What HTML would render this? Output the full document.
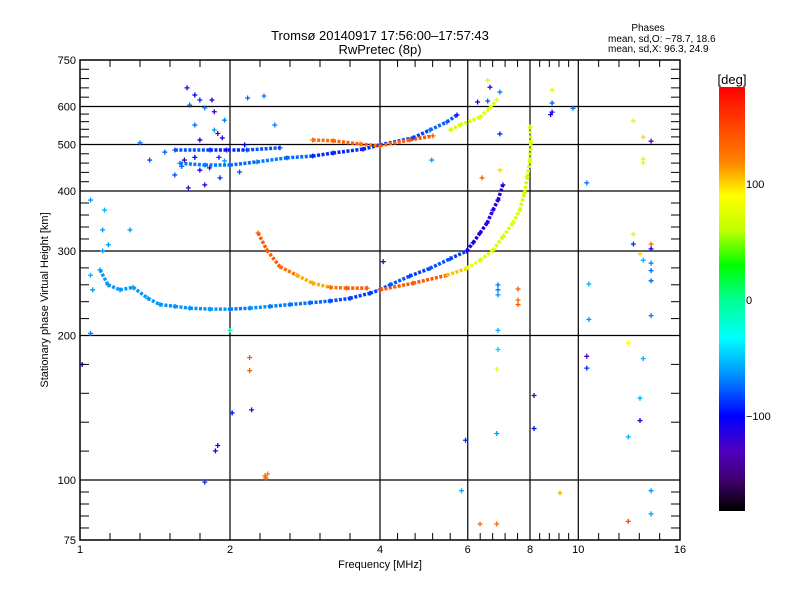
<!DOCTYPE html>
<html><head><meta charset="utf-8"><style>
body{margin:0;background:#fff;}
svg{display:block;font-family:"Liberation Sans",sans-serif;}
</style></head><body>
<svg id="c" width="800" height="600" viewBox="0 0 800 600">
<text x="380" y="40" font-size="13" text-anchor="middle">Tromsø 20140917 17:56:00–17:57:43</text>
<text x="380" y="54" font-size="13" text-anchor="middle">RwPretec (8p)</text>
<text x="648" y="31" font-size="10" text-anchor="middle">Phases</text>
<text x="608" y="42" font-size="10">mean, sd,O: −78.7, 18.6</text>
<text x="608" y="52" font-size="10">mean, sd,X:  96.3, 24.9</text>
<text x="380" y="568" font-size="11" text-anchor="middle">Frequency [MHz]</text>
<text transform="translate(48,300) rotate(-90)" font-size="11" text-anchor="middle">Stationary phase Virtual Height [km]</text>
<g id="grid"></g><g id="marks"></g><g id="axes"></g><g id="cbar"></g>
</svg>
<script>
// ---- data arrays: [frequency MHz, virtual height km, phase deg] ----
const oTraceLow=[[1.097,274,-62],[1.138,255,-62],[1.203,249,-62],[1.278,252,-62],[1.369,239,-62],[1.447,232,-65],[1.551,230,-62],[1.662,228,-65],[1.823,227,-62],[2.0,227,-70],[2.193,228,-65],[2.405,230,-70],[2.639,232,-72],[2.895,234,-75],[3.175,236,-82],[3.482,239,-85],[3.82,245,-85],[4.0,249,-85]];
const xBranchBlue=[[4.0,249,-85],[4.19,255,-80],[4.59,266,-85],[5.04,276,-80],[5.53,289,-85],[5.97,300,-110],[6.15,312,-110],[6.35,327,-110],[6.56,343,-115],[6.74,365,-110],[6.90,383,-115],[7.06,412,-115]];
const branchGreen=[[4.0,249,140],[4.66,257,140],[5.45,267,105],[5.97,276,80],[6.35,287,75],[6.74,301,70],[7.06,321,70],[7.39,343,75],[7.63,365,70],[7.80,396,70],[7.90,428,65],[8.0,464,70],[8.03,504,75],[8.0,544,70]];
const orangeArc=[[2.277,327,140],[2.373,301,140],[2.52,278,130],[2.726,267,110],[2.93,257,110],[3.175,252,130],[3.43,251,140],[3.77,251,140]];
const upperBlue=[[1.587,457,-70],[1.782,453,-70],[2.0,453,-75],[2.266,460,-70],[2.60,469,-75],[2.93,473,-90],[3.22,480,-90],[3.70,489,-90],[4.0,499,-85],[4.66,516,-85],[5.04,536,-75],[5.45,557,-78],[5.71,576,-100]];
const upperRow=[[1.55,487,-80],[1.823,487,-90],[2.16,487,-80],[2.52,492,-85]];
const upperOrange=[[2.93,511,130],[3.22,509,135],[3.65,501,130],[4.0,497,135],[4.59,511,140],[5.11,521,135]];
const upperGreen=[[5.53,536,70],[5.79,549,70],[6.35,570,75],[6.65,596,75],[6.86,620,80]];
const scatter=[[1.64,656,-110],[1.70,634,-100],[1.74,619,-90],[1.66,604,-80],[1.78,596,-70],[1.84,619,-100],[1.86,585,-120],[1.70,549,-75],[1.86,536,-62],[1.95,562,-70],[1.93,516,-120],[1.89,527,-130],[1.74,511,-100],[1.97,487,-110],[1.91,426,-90],[1.78,412,-110],[1.65,406,-120],[2.09,438,-80],[2.17,625,-75],[2.34,631,-70],[2.14,499,-100],[2.46,549,-70],[1.62,464,-140],[1.74,442,-110],[1.82,447,-120],[1.55,432,-80],[1.38,464,-80],[1.32,504,-70],[1.48,482,-80],[1.70,470,-100],[1.90,470,-90],[1.60,450,-75],[1.95,462,-62],
[1.05,383,-62],[1.12,365,-55],[1.11,332,-62],[1.14,309,-62],[1.11,300,-62],[1.26,332,-62],[1.05,267,-55],[1.06,249,-62],[1.01,174,-100],[1.05,202,-70],
[2.0,205,0],[2.19,180,140],[2.19,169,140],[2.21,140,-120],[2.02,138,-100],[1.89,118,-110],[1.87,115,-110],[1.78,99,-90],[2.35,102,130],[2.36,101,140],[2.38,103,120],[4.06,285,-130],
[6.58,681,75],[6.65,658,-120],[6.58,616,-80],[6.28,613,-110],[6.96,643,-70],[6.96,526,-90],[5.08,464,-62],[6.41,426,140],[6.96,442,100],
[6.90,255,-70],[6.90,249,-70],[6.90,243,-62],[6.90,205,-55],[6.90,187,-45],[7.57,250,140],[7.57,237,130],[7.57,232,140],[6.86,170,80],[6.86,125,-62],[6.86,81,130],
[8.86,649,70],[8.86,610,-80],[8.86,584,-100],[8.80,577,-110],[9.76,595,-75],[10.4,416,-70],
[12.9,560,70],[13.5,518,100],[14.0,508,-130],[13.5,466,70],[13.5,458,70],[12.9,325,70],[12.9,310,-90],[14.0,310,130],[14.0,303,-100],[13.3,296,100],[13.5,287,-55],[14.0,283,-70],[14.0,273,-75],[14.0,260,-75],[14.0,220,-70],[10.5,256,-55],[10.5,216,-62],
[12.6,193,90],[13.5,179,-55],[13.3,148,-55],[13.3,133,-110],[14.0,95,-62],[14.0,85,-62],[12.6,123,-55],[12.6,82,150],[10.4,181,-130],[10.4,171,-90],[9.19,94,110],[8.15,150,-120],[8.15,128,-100],[5.94,121,-90],[5.83,95,-55],[6.35,81,130]];
const traces=[oTraceLow,xBranchBlue,branchGreen,orangeArc,upperBlue,upperRow,upperOrange,upperGreen];
const xTickLabels=[1,2,4,6,8,10,16];
const yTickLabels=[75,100,200,300,400,500,600,750];
const cbarLabels=[100,0,-100];

// ---- scales ----
const X0=80,X1=680,Y0=60,Y1=540;
const xs=f=>X0+150*Math.log2(f);
const ys=h=>480-144.5*Math.log2(h/100);
const NS="http://www.w3.org/2000/svg";
const stops=[[-181,0,0,0],[-155,64,0,112],[-130,80,0,192],[-100,0,0,255],[-65,0,144,255],[-33,0,255,255],[0,0,255,144],[30,0,255,0],[60,192,255,0],[90,255,255,0],[120,255,128,0],[184,255,0,0]];
function col(v){
  if(v<=stops[0][0])return"rgb(0,0,0)";
  for(let i=1;i<stops.length;i++){if(v<=stops[i][0]){const a=stops[i-1],b=stops[i],t=(v-a[0])/(b[0]-a[0]);
    return`rgb(${Math.round(a[1]+t*(b[1]-a[1]))},${Math.round(a[2]+t*(b[2]-a[2]))},${Math.round(a[3]+t*(b[3]-a[3]))})`;}}
  return"rgb(255,0,0)";
}
function mk(tag,attrs,parent){const e=document.createElementNS(NS,tag);for(const k in attrs)e.setAttribute(k,attrs[k]);parent.appendChild(e);return e;}
const grid=document.getElementById('grid'),marks=document.getElementById('marks'),axes=document.getElementById('axes'),cb=document.getElementById('cbar');

// grid lines
xTickLabels.slice(1,-1).forEach(f=>{const l=mk('line',{x1:xs(f),x2:xs(f),y1:Y0,y2:Y1,stroke:'#000','stroke-width':1.2},grid);

});
yTickLabels.slice(1,-1).forEach(h=>{const l=mk('line',{x1:X0,x2:X1,y1:ys(h),y2:ys(h),stroke:'#000','stroke-width':1.2},grid);

});

// trace segments
const clip=mk('clipPath',{id:'pc'},document.getElementById('c'));mk('rect',{x:X0,y:Y0,width:X1-X0,height:Y1-Y0},clip);
marks.setAttribute('clip-path','url(#pc)');
traces.forEach(tr=>{for(let i=1;i<tr.length;i++){const a=tr[i-1],b=tr[i];
  const s=mk('line',{x1:xs(a[0]),y1:ys(a[1]),x2:xs(b[0]),y2:ys(b[1]),stroke:col(a[2]),'stroke-width':3.5,'stroke-dasharray':'3 1.5'},marks);
  
  }});
function plus(p){const x=xs(p[0]),y=ys(p[1]);
  const g=mk('path',{d:`M${x-2.5},${y}h5M${x},${y-2.5}v5`,stroke:col(p[2]),'stroke-width':1.3},marks);
  
  }
traces.forEach(tr=>tr.forEach(plus));
scatter.forEach(plus);

// axes box
const box=mk('rect',{x:X0,y:Y0,width:X1-X0,height:Y1-Y0,fill:'none',stroke:'#000','stroke-width':1.5},axes);


// minor ticks: 5 subdivisions between labelled values
for(let i=0;i<xTickLabels.length-1;i++){const a=xs(xTickLabels[i]),b=xs(xTickLabels[i+1]);
  for(let k=1;k<5;k++){const x=a+(b-a)*k/5;
    const t1=mk('line',{x1:x,x2:x,y1:Y0,y2:Y0+7,stroke:'#000'},axes);
    
    
    const t2=mk('line',{x1:x,x2:x,y1:Y1,y2:Y1-7,stroke:'#000'},axes);
    
    }}
for(let i=0;i<yTickLabels.length-1;i++){const a=ys(yTickLabels[i]),b=ys(yTickLabels[i+1]);
  for(let k=1;k<5;k++){const y=a+(b-a)*k/5;
    const t1=mk('line',{x1:X0,x2:X0+9,y1:y,y2:y,stroke:'#000'},axes);
    
    
    const t2=mk('line',{x1:X1,x2:X1-9,y1:y,y2:y,stroke:'#000'},axes);
    
    }}
xTickLabels.forEach(f=>{const t=mk('text',{x:xs(f),y:553,'font-size':11,'text-anchor':'middle'},axes);t.textContent=f;
  
  });
yTickLabels.forEach(h=>{const t=mk('text',{x:76,y:ys(h)+4,'font-size':11,'text-anchor':'end'},axes);t.textContent=h;
  
  });

// colorbar
const CB0=87,CB1=511,cy=v=>300-1.16*v;
const defs=mk('defs',{},document.getElementById('c'));
const grad=mk('linearGradient',{id:'cg',x1:0,y1:0,x2:0,y2:1},defs);
stops.slice().reverse().forEach(s=>{mk('stop',{offset:((cy(s[0])-CB0)/(CB1-CB0)).toFixed(3),'stop-color':col(s[0])},grad);});
const bar=mk('rect',{x:719,y:CB0,width:26,height:CB1-CB0,fill:'url(#cg)'},cb);


const unit=mk('text',{x:732,y:84,'font-size':13,'text-anchor':'middle'},cb);unit.textContent='[deg]';


cbarLabels.forEach(v=>{const t=mk('text',{x:746,y:cy(v)+4,'font-size':11},cb);t.textContent=v===-100?'−100':v;
  
  });
</script>
</body></html>
